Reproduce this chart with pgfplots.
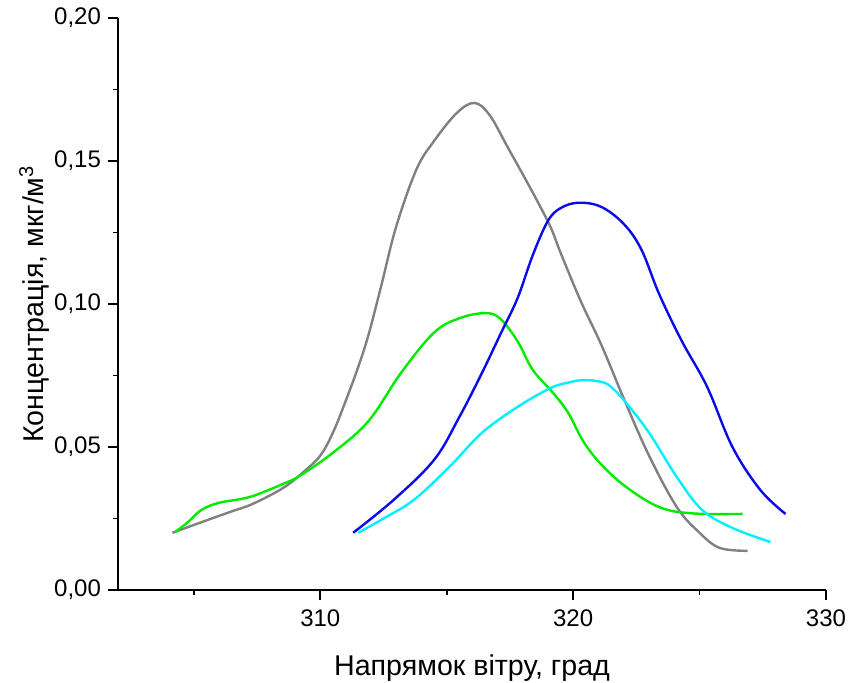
\documentclass[border=0pt]{standalone}
\usepackage{pgfplots}
\pgfplotsset{compat=1.18}
\usepackage{fontspec}
\setmainfont{Liberation Sans}
\definecolor{cgray}{RGB}{128,128,128}
\definecolor{cgreen}{RGB}{0,235,0}
\definecolor{cblue}{RGB}{10,10,235}
\definecolor{ccyan}{RGB}{0,240,255}
\begin{document}
\begin{tikzpicture}
\path[use as bounding box] (-59pt,-46.5pt) rectangle (366pt,295pt);
\begin{axis}[
  scale only axis,
  width=354pt, height=286pt,
  xmin=302, xmax=330, ymin=0, ymax=0.2,
  axis x line*=bottom, axis y line*=left,
  axis line style={line width=1pt, -},
  tick align=outside,
  major tick length=5pt, minor tick length=2.5pt,
  every tick/.style={black, line width=0.8pt},
  xtick={310,320,330}, minor xtick={305,315,325},
  ytick={0,0.05,0.1,0.15,0.2}, minor ytick={0.025,0.075,0.125,0.175},
  scaled y ticks=false,
  yticklabel style={/pgf/number format/.cd, fixed, fixed zerofill, precision=2, use comma},
  /pgf/number format/assume math mode=true,
  ticklabel style={font=\fontsize{12}{14}\selectfont},
  xticklabel style={yshift=-1.5pt},
  label style={font=\fontsize{14.3}{16}\selectfont},
  xlabel={Напрямок вітру, град},
  ylabel={Концентрація, мкг/м\textsuperscript{3}},
  xlabel style={yshift=-7pt},
  ylabel style={yshift=-4.5pt},
  clip=false,
]
\addplot[cgray, line width=1.2pt, smooth, tension=0.6] coordinates {
(304.15,0.020) (305.3,0.0237) (306.5,0.0275) (307.3,0.030) (308.5,0.0355) (309.3,0.041)
(310.0,0.047) (310.5,0.055) (311.0,0.066) (311.5,0.078) (311.9,0.089) (312.4,0.106)
(313.0,0.127) (313.8,0.147) (314.5,0.157) (315.4,0.1668) (316.1,0.1703) (316.7,0.166)
(317.4,0.155) (318.4,0.139) (319.1,0.127) (319.5,0.118) (320.3,0.101) (321.1,0.086)
(322.0,0.067) (323.0,0.047) (324.1,0.029) (325.0,0.020) (325.8,0.0147) (326.9,0.0137)
};
\addplot[cgreen, line width=1.2pt, smooth, tension=0.6] coordinates {
(304.27,0.0203) (304.8,0.024) (305.3,0.028) (306.0,0.0305) (307.2,0.0325) (308.5,0.037)
(309.2,0.040) (310.5,0.048) (311.9,0.059) (313.2,0.076) (314.5,0.090) (315.5,0.095)
(316.5,0.0968) (317.1,0.095) (317.8,0.087) (318.4,0.077) (319.2,0.069) (319.8,0.062)
(320.4,0.052) (321.1,0.044) (322.1,0.036) (323.4,0.029) (324.7,0.0268) (326.7,0.0266)
};
\addplot[cblue, line width=1.2pt, smooth, tension=0.6] coordinates {
(311.3,0.020) (312.9,0.0315) (314.5,0.0455) (315.5,0.0605) (316.4,0.076) (317.1,0.089)
(317.8,0.102) (318.4,0.117) (319.0,0.129) (319.5,0.1335) (320.2,0.1354) (321.1,0.134)
(322.0,0.128) (322.7,0.119) (323.4,0.1035) (324.3,0.087) (325.3,0.071) (326.3,0.050)
(327.4,0.035) (328.4,0.0266)
};
\addplot[ccyan, line width=1.2pt, smooth, tension=0.6] coordinates {
(311.5,0.020) (312.5,0.025) (313.7,0.0315) (315.1,0.043) (316.4,0.055) (317.8,0.064)
(319.1,0.0706) (319.8,0.0725) (320.4,0.0734) (321.1,0.0728) (321.5,0.071) (322.1,0.0654)
(323.0,0.055) (324.1,0.0395) (325.1,0.028) (326.3,0.0217) (327.8,0.0168)
};
\end{axis}
\end{tikzpicture}
\end{document}
